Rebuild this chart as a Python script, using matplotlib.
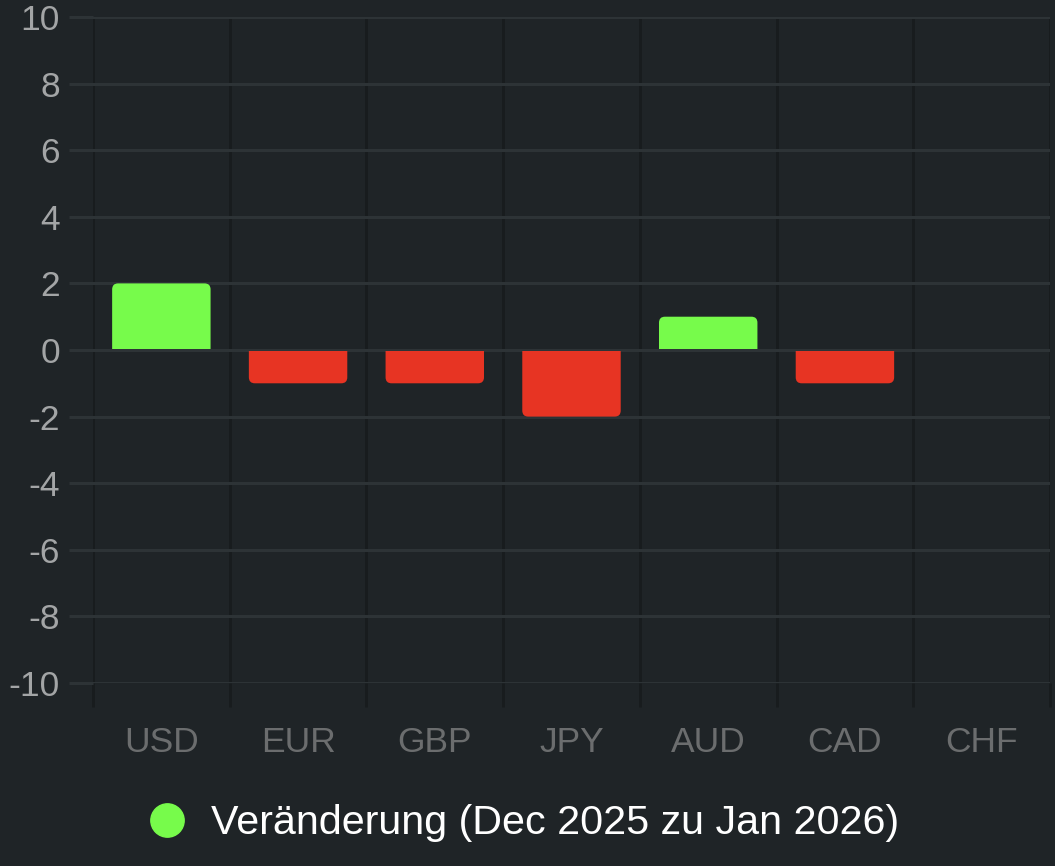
import numpy as np
import matplotlib
matplotlib.use("Agg")
from matplotlib import pyplot as plt
from matplotlib.patches import PathPatch
from matplotlib.path import Path
from matplotlib.lines import Line2D

#
# data
#
currencies = ['USD', 'EUR', 'GBP', 'JPY', 'AUD', 'CAD', 'CHF']
changes = [2, -1, -1, -2, 1, -1, 0]
legend_label = 'Veränderung (Dec 2025 zu Jan 2026)'
yticks = [-10, -8, -6, -4, -2, 0, 2, 4, 6, 8, 10]

bg = '#1f2427'
green = '#77fb4b'
red = '#e73423'
hgrid = '#2d3336'
vgrid = '#181c1e'

plt.rcParams['font.family'] = ['Liberation Sans', 'DejaVu Sans']

W, H = 1055, 866
fig = plt.figure(figsize=(W/100, H/100), dpi=100, facecolor=bg)
ax = fig.add_axes([93/W, 1-683/H, 957/W, 666/H], facecolor=bg)

n = len(currencies)
x = np.arange(n)
ax.set_xlim(-0.5, n-0.5)
ax.set_ylim(-10, 10)

# px per data unit, for round corners at the bar end
pxx = 957/n
pxy = 666/20.
rx = 6/pxx
ry = 6/pxy
width = 0.72
gap = 1.0/pxy

for xi, v in zip(x, changes):
    if v == 0:
        continue
    col = green if v > 0 else red
    s = np.sign(v)
    x0, x1 = xi-width/2, xi+width/2
    base = s*gap
    verts = [(x0, base), (x0, v-s*ry), (x0, v), (x0+rx, v),
             (x1-rx, v), (x1, v), (x1, v-s*ry), (x1, base), (x0, base)]
    codes = [Path.MOVETO, Path.LINETO, Path.CURVE3, Path.CURVE3,
             Path.LINETO, Path.CURVE3, Path.CURVE3, Path.LINETO, Path.CLOSEPOLY]
    ax.add_patch(PathPatch(Path(verts, codes), fc=col, ec='none', zorder=3))

# horizontal grid + tick marks
ax.set_yticks(yticks)
ax.set_yticklabels([str(t) for t in yticks], color='#a3a5a6', fontsize=25.5)
ax.yaxis.grid(True, color=hgrid, lw=2.2, zorder=1)
ax.tick_params(axis='y', length=17.3, width=2.2, color=hgrid, pad=6.5)

# vertical lines between categories
bounds = np.arange(n+1) - 0.5
ax.set_xticks(bounds, minor=True)
ax.xaxis.grid(True, which='minor', color=vgrid, lw=2.0, zorder=1)
ax.tick_params(axis='x', which='minor', length=17.3, width=2.0, color=vgrid)
ax.set_xticks(x)
ax.set_xticklabels(currencies, color='#6b6d6e', fontsize=25.5)
ax.tick_params(axis='x', which='major', length=0, pad=31)
ax.set_axisbelow(True)

for sp in ax.spines.values():
    sp.set_visible(False)

handle = Line2D([], [], ls='none', marker='o', ms=24, mfc=green, mec=green)
leg = fig.legend([handle], [legend_label], loc='center', bbox_to_anchor=(0.4934, 1-823/H),
                 frameon=False, fontsize=29.7, labelcolor='white', handletextpad=0.47,
                 handlelength=1.2)

plt.savefig('out.png', dpi=100, facecolor=bg)
